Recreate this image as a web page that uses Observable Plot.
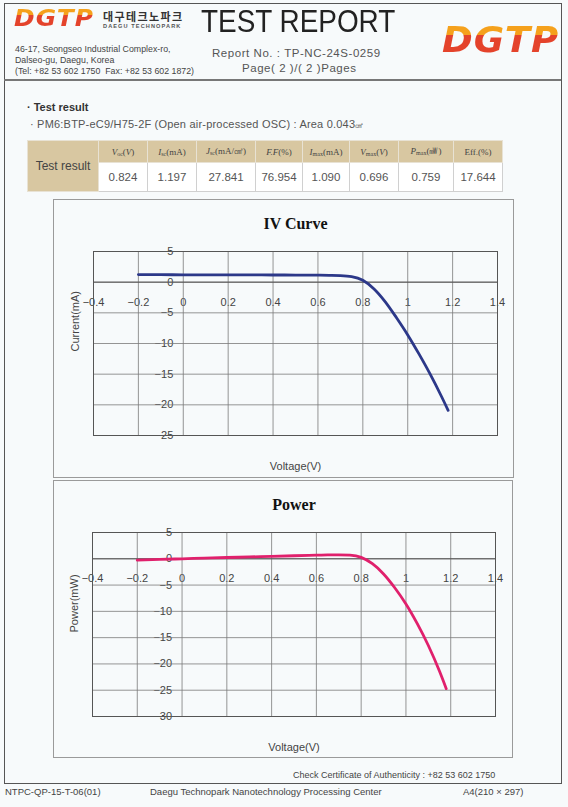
<!DOCTYPE html>
<html>
<head>
<meta charset="utf-8">
<script src="https://cdn.jsdelivr.net/npm/d3@7"></script>
<script src="https://cdn.jsdelivr.net/npm/@observablehq/plot@0.6"></script>
<style>
  html, body { margin: 0; padding: 0; background: #f7fafb; }
  #page { position: relative; width: 568px; height: 807px; overflow: hidden; font-family: "Liberation Sans", Arial, sans-serif; color: #333; background: #f7fafb; }
  .abs { position: absolute; white-space: nowrap; }
  .logo { font-family: "DejaVu Sans", sans-serif; font-weight: bold; font-style: italic;
          background: linear-gradient(180deg, #f5a11c 0%, #f5a11c 38%, #e4432b 38%, #e4432b 100%);
          -webkit-background-clip: text; background-clip: text; color: transparent; }
  table.res { position: absolute; left: 27px; top: 140px; width: 475px; border-collapse: collapse; table-layout: fixed; }
  table.res td { border: 1px solid #e8e2d4; text-align: center; padding: 0; overflow: hidden; }
  table.res tr.h td { background: #d8c7a1; height: 21px; font-family: "Liberation Serif", serif; font-size: 9px; color: #444; }
  table.res tr.v td { background: #ffffff; height: 28px; font-size: 11.5px; color: #555; border-color: #d0d0d0; }
  table.res tr.h td.lab { background: #d8c7a1; font-size: 12px; color: #444; font-family: "Liberation Sans", sans-serif; }
  table.res sub { font-size: 6px; vertical-align: -1px; }
  .box { position: absolute; border: 1px solid #9a9a9a; }
</style>
</head>
<body>
<div id="page">
  <!-- outer frame -->
  <div class="abs" style="left:4px; top:3px; width:556px; height:779px; border:1px solid #555;"></div>
  <div class="abs" style="left:4px; top:79px; width:557px; height:0; border-top:2px solid #777;"></div>

  <!-- header -->
  <div class="abs logo" style="left:14px; top:5px; font-size:23px; letter-spacing:1px; transform:scaleX(1.08); transform-origin:left;">DGTP</div>
  <div class="abs" style="left:103px; top:11px; font-family:'Noto Sans CJK KR', sans-serif; font-weight:bold; font-size:11px; line-height:11px; letter-spacing:1.4px; color:#333;">대구테크노파크</div>
  <div class="abs" style="left:103px; top:23px; font-size:5.6px; line-height:6px; font-weight:bold; letter-spacing:1.1px; color:#555;">DAEGU TECHNOPARK</div>
  <div class="abs" style="left:201px; top:4px; font-size:31px; color:#222; transform:scaleX(0.9); transform-origin:left;">TEST REPORT</div>
  <div class="abs" style="left:15px; top:44px; font-size:8.8px; line-height:11px; color:#444;">46-17, Seongseo Industrial Complex-ro,<br>Dalseo-gu, Daegu, Korea<br>(Tel: +82 53 602 1750&nbsp; Fax: +82 53 602 1872)</div>
  <div class="abs" style="left:212px; top:47px; font-size:11.5px; color:#555; letter-spacing:0.55px;">Report No. : TP-NC-24S-0259</div>
  <div class="abs" style="left:242px; top:62px; font-size:11.5px; color:#555; letter-spacing:0.55px;">Page( 2 )/( 2 )Pages</div>
  <div class="abs logo" style="left:442px; top:20px; font-size:35px; letter-spacing:1px; transform:scaleX(1.06); transform-origin:left;">DGTP</div>

  <!-- test result -->
  <div class="abs" style="left:27px; top:101px; font-size:11px; font-weight:bold; color:#333;">· Test result</div>
  <div class="abs" style="left:30px; top:118px; font-size:11px; color:#555; letter-spacing:0.2px;">· PM6:BTP-eC9/H75-2F (Open air-processed OSC) : Area 0.043<span style="font-size:8px;">㎠</span></div>

  <table class="res" id="restable"></table>

  <!-- chart boxes -->
  <div class="box" style="left:53px; top:199px; width:459px; height:277px;"></div>
  <div class="box" style="left:53px; top:480px; width:458px; height:276px;"></div>
  <div id="iv" class="abs" style="left:53px; top:199px;"></div>
  <div id="pw" class="abs" style="left:53px; top:479px;"></div>

  <!-- footer -->
  <div class="abs" style="left:293px; top:770px; font-size:9px; color:#444;">Check Certificate of Authenticity : +82 53 602 1750</div>
  <div class="abs" style="left:5px; top:786px; font-size:9.5px; color:#444;">NTPC-QP-15-T-06(01)</div>
  <div class="abs" style="left:150px; top:786px; font-size:9.5px; color:#444;">Daegu Technopark Nanotechnology Processing Center</div>
  <div class="abs" style="left:463px; top:786px; font-size:9.5px; color:#444;">A4(210 × 297)</div>
</div>

<script>
// ---------- data ----------
const tableHeaders = [
  "<i>V</i><sub>oc</sub>(<i>V</i>)",
  "<i>I</i><sub>sc</sub>(mA)",
  "<i>J</i><sub>sc</sub>(mA/㎠)",
  "<i>F.F</i>(%)",
  "<i>I</i><sub>max</sub>(mA)",
  "<i>V</i><sub>max</sub>(<i>V</i>)",
  "<i>P</i><sub>max</sub>(㎽)",
  "Eff.(%)"
];
const tableValues = ["0.824", "1.197", "27.841", "76.954", "1.090", "0.696", "0.759", "17.644"];

const voltage = [-0.2, -0.1, 0, 0.1, 0.2, 0.3, 0.4, 0.5, 0.6, 0.65, 0.7, 0.75, 0.8, 0.85, 0.9, 0.95, 1.0, 1.05, 1.1, 1.15, 1.18];
const current = [1.24, 1.22, 1.20, 1.19, 1.19, 1.18, 1.17, 1.16, 1.14, 1.12, 1.08, 0.92, 0.32, -1.1, -3.2, -5.8, -8.6, -11.7, -15.0, -18.6, -20.9];
const power   = [-0.25, -0.12, 0, 0.12, 0.24, 0.35, 0.47, 0.58, 0.68, 0.73, 0.76, 0.69, 0.26, -0.94, -2.88, -5.51, -8.6, -12.3, -16.5, -21.4, -24.7];

const xTicks = [-0.4, -0.2, 0, 0.2, 0.4, 0.6, 0.8, 1, 1.2, 1.4];
const ivYTicks = [5, 0, -5, -10, -15, -20, -25];
const pwYTicks = [5, 0, -5, -10, -15, -20, -25, -30];

// ---------- table ----------
const colWidths = [71, 49, 49, 59, 47, 47, 49, 55, 49];
const tbl = document.getElementById("restable");
tbl.innerHTML =
  "<colgroup>" + colWidths.map(w => `<col style="width:${w}px">`).join("") + "</colgroup>" +
  `<tr class="h"><td class="lab" rowspan="2">Test result</td>` + tableHeaders.map(h => `<td>${h}</td>`).join("") + "</tr>" +
  `<tr class="v">` + tableValues.map(v => `<td>${v}</td>`).join("") + "</tr>";

// ---------- charts ----------
const fmt = d => d3.format("")(d).replace("-", "−");

function chart({data, yKey, yDomain, yTicks, color, title, yLabel, width, height, margins}) {
  return Plot.plot({
    width, height,
    marginLeft: margins[0], marginRight: margins[1], marginTop: margins[2], marginBottom: margins[3],
    x: {domain: [-0.4, 1.4], axis: null},
    y: {domain: yDomain, axis: null},
    style: {background: "transparent", fontFamily: "Liberation Sans, Arial, sans-serif", color: "#333", overflow: "visible"},
    marks: [
      Plot.text(xTicks, {x: d => d, y: 0, dy: 20, text: fmt, fontSize: 11, fill: "#444"}),
      Plot.text(yTicks, {x: 0, y: d => d, dx: -10, textAnchor: "end", text: fmt, fontSize: 11, fill: "#444"}),
      Plot.gridX(xTicks, {stroke: "#7a7a7a", strokeOpacity: 1, strokeWidth: 0.8}),
      Plot.gridY(yTicks, {stroke: "#7a7a7a", strokeOpacity: 1, strokeWidth: 0.8}),
      Plot.ruleY([0], {stroke: "#555", strokeWidth: 1}),
      Plot.frame({stroke: "#555", strokeWidth: 1}),
      Plot.line(data, {x: "v", y: yKey, stroke: color, strokeWidth: 2.8, curve: "monotone-x"}),
      Plot.text([title], {frameAnchor: "top", dy: -28, lineAnchor: "middle", fontFamily: "Liberation Serif, Times New Roman, serif", fontWeight: "bold", fontSize: 16, fill: "#111"}),
      Plot.text(["Voltage(V)"], {frameAnchor: "bottom", dy: 31, lineAnchor: "middle", fontSize: 11, fill: "#444"}),
      Plot.text([yLabel], {frameAnchor: "left", dx: -18, dy: 8, rotate: -90, lineAnchor: "middle", fontSize: 11, fill: "#444"})
    ]
  });
}

const rows = voltage.map((v, i) => ({v, i: current[i], p: power[i]}));

document.getElementById("iv").append(chart({
  data: rows, yKey: "i", yDomain: [-25, 5], yTicks: ivYTicks, color: "#2c3889",
  title: "IV Curve", yLabel: "Current(mA)", width: 460, height: 282, margins: [40, 16, 52, 46]
}));
document.getElementById("pw").append(chart({
  data: rows, yKey: "p", yDomain: [-30, 5], yTicks: pwYTicks, color: "#e0206c",
  title: "Power", yLabel: "Power(mW)", width: 460, height: 282, margins: [39, 18, 53, 45]
}));
</script>
</body>
</html>
